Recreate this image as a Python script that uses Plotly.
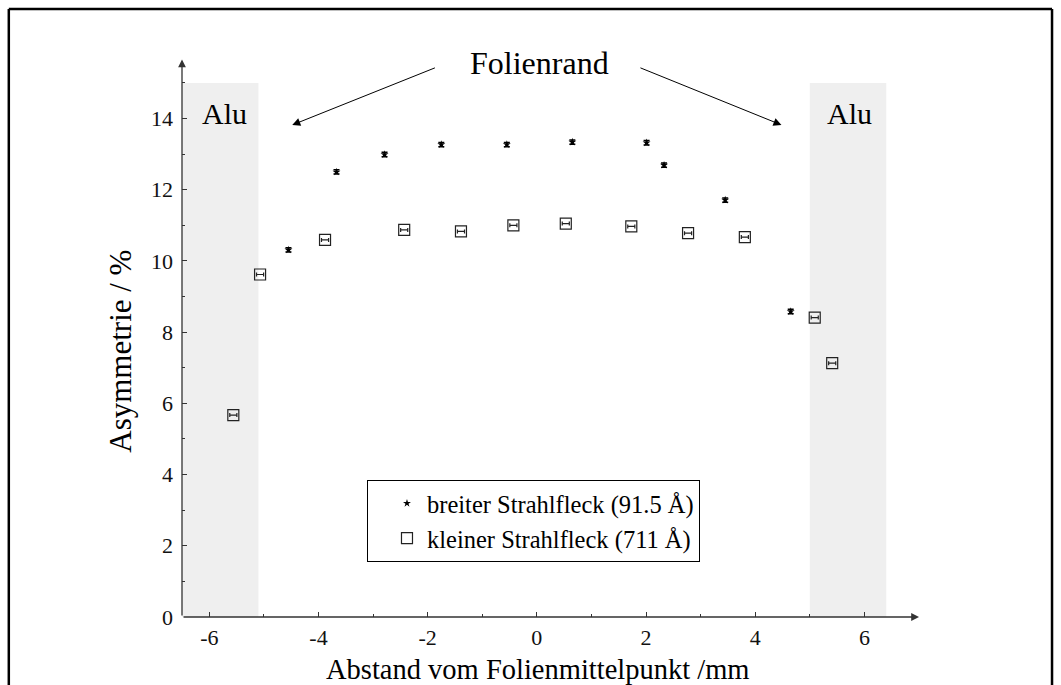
import plotly.graph_objects as go

# ---- data ----
star_x = [-4.55, -3.67, -2.79, -1.75, -0.55, 0.65, 2.01, 2.33, 3.45, 4.65]
star_y = [10.31, 12.50, 12.99, 13.27, 13.27, 13.34, 13.32, 12.69, 11.71, 8.58]
star_err = [0.06, 0.06, 0.06, 0.06, 0.06, 0.06, 0.06, 0.06, 0.06, 0.06]

sq_x = [-5.56, -5.07, -3.88, -2.43, -1.39, -0.43, 0.53, 1.73, 2.77, 3.81, 5.09, 5.41]
sq_y = [5.67, 9.62, 10.59, 10.87, 10.83, 11.00, 11.05, 10.97, 10.78, 10.67, 8.41, 7.13]
sq_err = [0.065] * 12

series_names = ["breiter Strahlfleck (91.5 Å)", "kleiner Strahlfleck (711 Å)"]

x_tickvals = [-6, -4, -2, 0, 2, 4, 6]
x_ticktext = ["-6", "-4", "-2", "0", "2", "4", "6"]
y_tickvals = [0, 2, 4, 6, 8, 10, 12, 14]
y_ticktext = ["0", "2", "4", "6", "8", "10", "12", "14"]

alu_left = [-6.5, -5.1]
alu_right = [5.0, 6.4]
alu_top = 15.0

x_range = [-6.5, 7.0]
y_range = [0, 15.7]

FONT = "Liberation Serif"
AXC = "#333333"

fig = go.Figure()

fig.add_trace(go.Scatter(
    x=star_x, y=star_y, mode="markers", name=series_names[0],
    marker=dict(symbol="star", size=6, color="black", line=dict(width=0)),
    error_y=dict(type="data", array=star_err, visible=True, color="black",
                 thickness=1.5, width=3),
))
fig.add_trace(go.Scatter(
    x=sq_x, y=sq_y, mode="markers", name=series_names[1],
    marker=dict(symbol="square-open", size=11, color="#222222",
                line=dict(width=1.2, color="#222222")),
    error_x=dict(type="data", array=sq_err, visible=True, color="#222222",
                 thickness=1.2, width=2),
))

# grey "Alu" bands
for (a, b) in (alu_left, alu_right):
    fig.add_shape(type="rect", x0=a, x1=b, y0=0, y1=alu_top, xref="x", yref="y",
                  fillcolor="#efefef", line=dict(width=0), layer="below")

# outer frame (left, top, right)
fig.add_shape(type="line", xref="paper", yref="paper", x0=-0.235, x1=-0.235,
              y0=-0.2, y1=1.0877, line=dict(color="black", width=2.5))
fig.add_shape(type="line", xref="paper", yref="paper", x0=-0.235, x1=1.1805,
              y0=1.0877, y1=1.0877, line=dict(color="black", width=2.5))
fig.add_shape(type="line", xref="paper", yref="paper", x0=1.1805, x1=1.1805,
              y0=-0.2, y1=1.0877, line=dict(color="black", width=2.5))

ann = []
# axis lines with arrows
ann.append(dict(x=x_range[1], y=0, ax=x_range[0], ay=0, xref="x", yref="y",
                axref="x", ayref="y", text="", showarrow=True, arrowhead=2,
                arrowsize=1.2, arrowwidth=1.3, arrowcolor=AXC))
ann.append(dict(x=x_range[0], y=15.66, ax=x_range[0], ay=0, xref="x", yref="y",
                axref="x", ayref="y", text="", showarrow=True, arrowhead=2,
                arrowsize=1.2, arrowwidth=1.3, arrowcolor=AXC))
# Folienrand arrows
ann.append(dict(x=-4.48, y=13.82, ax=-1.84, ay=15.44, xref="x", yref="y",
                axref="x", ayref="y", text="", showarrow=True, arrowhead=2,
                arrowsize=1.6, arrowwidth=1, arrowcolor="black"))
ann.append(dict(x=4.48, y=13.82, ax=1.87, ay=15.44, xref="x", yref="y",
                axref="x", ayref="y", text="", showarrow=True, arrowhead=2,
                arrowsize=1.6, arrowwidth=1, arrowcolor="black"))
ann.append(dict(x=0.05, y=15.57, xref="x", yref="y", text="Folienrand",
                showarrow=False, font=dict(family=FONT, size=32, color="black")))
# Alu labels
ann.append(dict(x=-5.72, y=14.15, xref="x", yref="y", text="Alu",
                showarrow=False, font=dict(family=FONT, size=30, color="black")))
ann.append(dict(x=5.72, y=14.15, xref="x", yref="y", text="Alu",
                showarrow=False, font=dict(family=FONT, size=30, color="black")))
# axis titles
ann.append(dict(x=0.02, y=0, xref="x", yref="paper", yshift=-52,
                text="Abstand vom Folienmittelpunkt /mm",
                showarrow=False, yanchor="middle",
                font=dict(family=FONT, size=28.5, color="black")))
ann.append(dict(x=0, y=7.45, xref="paper", yref="y", xshift=-61, text="Asymmetrie / %",
                showarrow=False, textangle=-90, xanchor="center", yanchor="middle",
                font=dict(family=FONT, size=31, color="black")))

fig.update_layout(
    width=1061, height=685,
    margin=dict(l=182, r=142, t=58, b=68),
    paper_bgcolor="white", plot_bgcolor="white",
    font=dict(family=FONT, color="black"),
    showlegend=True,
    legend=dict(x=0.251, y=0.2454, xanchor="left", yanchor="top",
                bgcolor="white", bordercolor="black", borderwidth=1,
                font=dict(family=FONT, size=24.5, color="black"),
                indentation=19, tracegroupgap=0),
    annotations=ann,
    xaxis=dict(range=x_range, showgrid=False, zeroline=False, showline=False,
               tickmode="array", tickvals=x_tickvals, ticktext=x_ticktext,
               ticks="inside", ticklen=5, tickwidth=1, tickcolor=AXC,
               minor=dict(dtick=1, tick0=0, ticks="inside", ticklen=3, tickcolor=AXC),
               tickfont=dict(family=FONT, size=22, color="#111111"),
               ticklabelstandoff=5),
    yaxis=dict(range=y_range, showgrid=False, zeroline=False, showline=False,
               tickmode="array", tickvals=y_tickvals, ticktext=y_ticktext,
               ticks="inside", ticklen=5, tickwidth=1, tickcolor=AXC,
               minor=dict(dtick=1, tick0=0, ticks="inside", ticklen=3, tickcolor=AXC),
               tickfont=dict(family=FONT, size=22, color="#111111"),
               ticklabelstandoff=8),
)

fig.write_html("out.html")
